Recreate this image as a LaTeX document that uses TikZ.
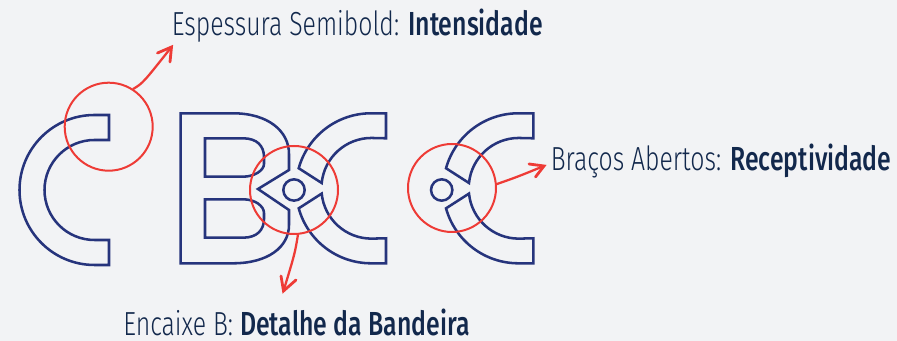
\documentclass[tikz,border=0pt]{standalone}
\usepackage{fontspec}
\setmainfont{Fira Sans Light}[FakeStretch=0.745,BoldFont={Fira Sans Medium}]
\definecolor{pagegray}{HTML}{F2F3F5}
\definecolor{logonavy}{HTML}{26347C}
\definecolor{markred}{HTML}{EE3B36}
\definecolor{textnavy}{HTML}{12284C}
\tikzset{
    logoline/.style={draw=logonavy, line width=1.9pt, line join=miter},
    markcircle/.style={circle, draw=markred, line width=1.5pt, inner sep=0pt, minimum size=66pt},
    markarrow/.style={draw=markred, line width=1.7pt, line cap=round},
    marktip/.style={draw=markred, line width=2.1pt, line cap=round, line join=miter},
    caption/.style={inner sep=0pt, text=textnavy, font=\fontsize{25pt}{28pt}\selectfont, anchor=base west}
}
\begin{document}
\begin{tikzpicture}[x=.75pt, y=.75pt]
    \useasboundingbox[fill=pagegray] (0,0) rectangle (897,341);
    % C
    \draw[logoline] (109,226)--(94.5,226) arc (90:270:75)--(109,76)--(109,101)--(94.5,101) arc (270:90:50)--(109,201)--cycle;
    % B
    \draw[logoline] (180.7,227.7)--(233,227.7) .. controls (268,227.7) and (289,210) .. (289,187)
        --(289,171)--(258,152)--(289,131)--(289,116) .. controls (289,94) and (268,77.7) .. (233,77.7)--(180.7,77.7)--cycle;
    \draw[logoline] (205,202.7)--(243,202.7) .. controls (257,202.7) and (264,195) .. (264,184)
        --(264,177) .. controls (264,171) and (255,164.3) .. (243,164.3)--(205,164.3)--cycle;
    \draw[logoline] (205,141.7)--(243,141.7) .. controls (255,141.7) and (264,135) .. (264,128)
        --(264,122) .. controls (264,111) and (257,103.3) .. (243,103.3)--(205,103.3)--cycle;
    % C's
    \foreach \dx in {0,147.3} {
        \draw[logoline] (386+\dx,227.7)--(371+\dx,227.7) arc (90:164.5:75)--(321.7+\dx,158) arc (174.3:90:50)--(386+\dx,202.7)--cycle;
        \draw[logoline] (386+\dx,77.7)--(371+\dx,77.7) arc (270:195.5:75)--(321.7+\dx,147.4) arc (185.7:270:50)--(386+\dx,102.7)--cycle;
    }
    \node[logoline, circle, inner sep=0pt, minimum size=16pt] (hubB) at (294,151) {};
    \node[logoline, circle, inner sep=0pt, minimum size=16pt] (hubC) at (441.7,151) {};
    % marks
    \node[markcircle] (markA) at (108.7,214.3) {};
    \node[markcircle] (markB) at (294,151) {};
    \node[markcircle] (markC) at (452,153) {};
    % labels
    \node[caption] (capA) at (171.5,305) {Espessura Semibold: \textbf{Intensidade}};
    \node[caption] (capB) at (123,5) {Encaixe B: \textbf{Detalhe da Bandeira}};
    \node[caption] (capC) at (550.5,170.5) {Braços Abertos: \textbf{Receptividade}};
    \coordinate (tipA) at (171.5,294);
    \coordinate (tipB) at (283.5,50);
    \coordinate (tipC) at (544,175);
    \draw[markarrow] (markA.57) .. controls (143,258) .. (tipA);
    \draw[markarrow] (markB.-85) .. controls (295,88) .. (tipB);
    \draw[markarrow] (markC.5) .. controls (517,164) .. (tipC);
    \draw[marktip] (157.5,288)--(tipA)--(170,279);
    \draw[marktip] (281,65)--(tipB)--(296,61);
    \draw[marktip] (529,177)--(tipC)--(535.5,164);
\end{tikzpicture}
\end{document}
